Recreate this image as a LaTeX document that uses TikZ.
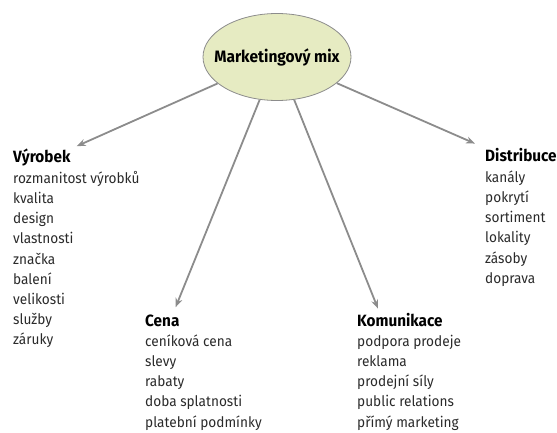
\documentclass[tikz,border=0pt]{standalone}
\usepackage{fontspec}
\setmainfont{Fira Sans}[FakeStretch=0.94]
\usetikzlibrary{positioning,arrows.meta,shapes.geometric}
\definecolor{mixfill}{HTML}{E6EBC2}
\definecolor{linegray}{HTML}{8C8C8C}
\definecolor{textgray}{HTML}{2A2A2A}
\tikzset{
	mixnode/.style={ellipse, draw=linegray, line width=0.8pt, fill=mixfill, minimum width=148pt, minimum height=87pt, inner xsep=-12pt, inner ysep=0pt, font=\fontsize{16.5}{18}\selectfont\bfseries, text=black},
	grouptitle/.style={anchor=base west, inner sep=0pt, font=\fontsize{16.3}{20.2}\selectfont\bfseries, text=black},
	groupitems/.style={anchor=base west, inner sep=0pt, align=left, font=\fontsize{14.5}{20.2}\selectfont, text=textgray},
	mixarrow/.style={-{Stealth[length=9pt,width=7pt]}, draw=linegray, line width=1.8pt}
}
\begin{document}
\begin{tikzpicture}[x=1pt,y=-1pt]
	\useasboundingbox (0,0) rectangle (557,433);
	\node[mixnode] (mix) at (277,57) {Marketingový mix};
	% the four groups (items anchored at their last line)
	\node[grouptitle] (vyrobek) at (13,163) {Výrobek};
	\node[groupitems] (vyrobekitems) at ([yshift=-181.8pt]vyrobek.base west) {rozmanitost výrobků\\kvalita\\design\\vlastnosti\\značka\\balení\\velikosti\\služby\\záruky};
	\node[grouptitle] (cena) at (145,326) {Cena};
	\node[groupitems] (cenaitems) at ([yshift=-101pt]cena.base west) {ceníková cena\\slevy\\rabaty\\doba splatnosti\\platební podmínky};
	\node[grouptitle] (komunikace) at (357,326) {Komunikace};
	\node[groupitems] (komunikaceitems) at ([yshift=-101pt]komunikace.base west) {podpora prodeje\\reklama\\prodejní síly\\public relations\\přímý marketing};
	\node[grouptitle] (distribuce) at (485,162) {Distribuce};
	\node[groupitems] (distribuceitems) at ([yshift=-121.2pt]distribuce.base west) {kanály\\pokrytí\\sortiment\\lokality\\zásoby\\doprava};
	% arrows
	\draw[mixarrow] (mix) -- ([shift={(6pt,3pt)}]vyrobek.north east);
	\draw[mixarrow] (mix) -- ([shift={(-4pt,7pt)}]cena.north east);
	\draw[mixarrow] (mix) -- ([shift={(21pt,4pt)}]komunikace.north west);
	\draw[mixarrow] (mix) -- ([shift={(-10pt,5pt)}]distribuce.north west);
\end{tikzpicture}
\end{document}
